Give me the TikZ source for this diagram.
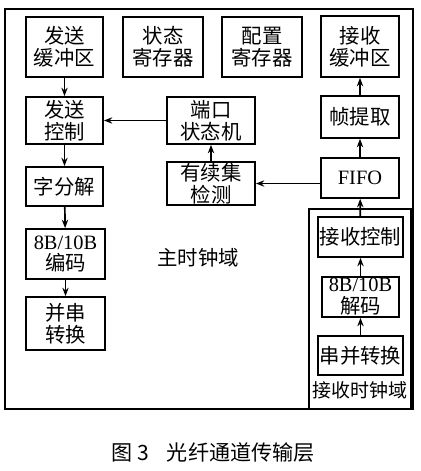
\documentclass[tikz,border=0pt]{standalone}
\usepackage{fontspec}
\setmainfont{Liberation Serif}
\newfontfamily\cjk{Noto Sans CJK SC}
\usetikzlibrary{arrows.meta}

\begin{document}
\begin{tikzpicture}[
x=0.025cm,y=-0.025cm,
>={Stealth[length=6pt,width=4.5pt]},
line width=1.2pt,
box/.style={
draw,
inner sep=1pt,
align=center,
font=\cjk\fontsize{14.5}{15.6}\selectfont},
label/.style={font=\cjk\fontsize{14.5}{15.6}\selectfont}
]
\useasboundingbox (0,0) rectangle (420,471);

% frames
\draw[line width=1.4pt] (5,9) rectangle (413,409);
\draw (309,209) rectangle (411,409);

% top row
\node[box,minimum width=1.925cm,minimum height=1.5cm] (sbuf) at (64.5,47) {发送\\缓冲区};
\node[box,minimum width=2cm,minimum height=1.5cm] (streg) at (163,47) {状态\\寄存器};
\node[box,minimum width=2cm,minimum height=1.5cm] (cfgreg) at (262,47) {配置\\寄存器};
\node[box,minimum width=1.95cm,minimum height=1.525cm] (rbuf) at (360,46.5) {接收\\缓冲区};

% send side
\node[box,minimum width=1.925cm,minimum height=1.175cm] (sctrl) at (64.5,120.5) {发送\\控制};
\node[box,minimum width=1.925cm,minimum height=0.975cm] (wdec) at (64.5,186.5) {字分解};
\node[box,minimum width=1.975cm,minimum height=1.25cm] (enc) at (65.5,254) {{\rmfamily 8B/10B}\\编码};
\node[box,minimum width=1.975cm,minimum height=1.325cm] (ps) at (65.5,323.5) {并串\\转换};

% middle
\node[box,minimum width=2.2cm,minimum height=1.175cm] (psm) at (211,120.5) {端口\\状态机};
\node[box,minimum width=2.2cm,minimum height=1.075cm] (seq) at (211,183.5) {有续集\\检测};
\node[label] (mclk) at (198,258) {主时钟域};

% receive side
\node[box,minimum width=1.95cm,minimum height=1.05cm] (frm) at (360,117) {帧提取};
\node[box,minimum width=1.95cm,minimum height=1cm] (fifo) at (360,178) {\rmfamily FIFO};
\node[box,minimum width=1.975cm,minimum height=1cm] (rctrl) at (360.5,237) {接收控制};
\node[box,minimum width=1.925cm,minimum height=1cm] (dec) at (360.5,297) {{\rmfamily 8B/10B}\\解码};
\node[box,minimum width=1.925cm,minimum height=0.975cm] (sp) at (360.5,355.5) {串并转换};
\node[label,font=\cjk\fontsize{13.5}{15}\selectfont] (rclk) at (360,390) {接收时钟域};

\foreach \a/\b in {sbuf/sctrl,sctrl/wdec,wdec/enc,enc/ps,seq/psm,fifo/frm,frm/rbuf,rctrl/fifo,dec/rctrl,sp/dec}
\draw[->] (\a)--(\b);
\draw[->] (psm.west)--(sctrl.east);
\draw[->] (fifo.west |- seq)--(seq.east);

\node[font=\cjk\fontsize{15}{17}\selectfont] (cap) at (213,453) {图~3\hspace{0.45cm}光纤通道传输层};
\end{tikzpicture}
\end{document}
